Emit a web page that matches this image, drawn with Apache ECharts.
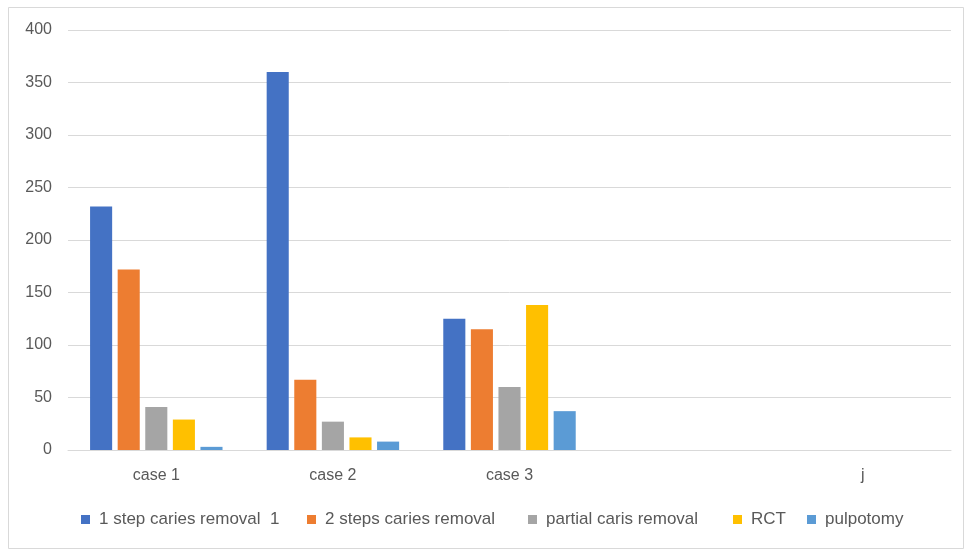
<!DOCTYPE html>
<html>
<head>
<meta charset="utf-8">
<style>
  html, body { margin: 0; padding: 0; background: #ffffff; }
  #chart { width: 966px; height: 550px; }
</style>
<script src="https://cdn.jsdelivr.net/npm/echarts@6/dist/echarts.min.js"></script>
</head>
<body>
<div id="chart"></div>
<script>
// Treatment counts per case
const categories = ['case 1', 'case 2', 'case 3', '', 'j'];
const seriesNames = ['1 step caries removal  1', '2 steps caries removal', 'partial caris removal', 'RCT', 'pulpotomy'];
const oneStep = [232, 360, 125, null, null];
const twoSteps = [172, 67, 115, null, null];
const partial = [41, 27, 60, null, null];
const rct = [29, 12, 138, null, null];
const pulpotomy = [3, 8, 37, null, null];
const yTicks = { min: 0, max: 400, interval: 50 };

const colors = ['#4472C4', '#ED7D31', '#A5A5A5', '#FFC000', '#5B9BD5'];
const values = [oneStep, twoSteps, partial, rct, pulpotomy];
// left edge of each legend entry (fixed-width legend slots)
const legendLeft = [81, 307, 528, 733, 807];
const font = 'Liberation Sans';
const textColor = '#595959';

const chart = echarts.init(document.getElementById('chart'));
chart.setOption({
  animation: false,
  backgroundColor: '#ffffff',
  color: colors,
  graphic: [{
    type: 'rect',
    shape: { x: 8.5, y: 7.5, width: 955, height: 541 },
    style: { fill: 'none', stroke: '#d9d9d9', lineWidth: 1 },
    silent: true
  }],
  grid: { left: 68, right: 15, top: 30, bottom: 100 },
  legend: seriesNames.map((name, i) => ({
    bottom: 22,
    left: legendLeft[i],
    padding: 0,
    icon: 'rect',
    itemWidth: 9,
    itemHeight: 9,
    textStyle: { color: textColor, fontFamily: font, fontSize: 17, padding: [0, 0, 0, 4] },
    data: [name]
  })),
  xAxis: {
    type: 'category',
    data: categories,
    axisLine: { lineStyle: { color: '#d9d9d9', width: 1 } },
    axisTick: { show: false },
    axisLabel: { color: textColor, fontFamily: font, fontSize: 16, margin: 18 }
  },
  yAxis: {
    type: 'value',
    min: yTicks.min,
    max: yTicks.max,
    interval: yTicks.interval,
    axisLine: { show: false },
    axisTick: { show: false },
    splitLine: { lineStyle: { color: '#d9d9d9', width: 1 } },
    axisLabel: { color: textColor, fontFamily: font, fontSize: 16, margin: 16 }
  },
  series: seriesNames.map((name, i) => ({
    name: name,
    type: 'bar',
    data: values[i],
    barGap: '25%',
    barCategoryGap: '25%',
    itemStyle: { color: colors[i] }
  }))
});
</script>
</body>
</html>
